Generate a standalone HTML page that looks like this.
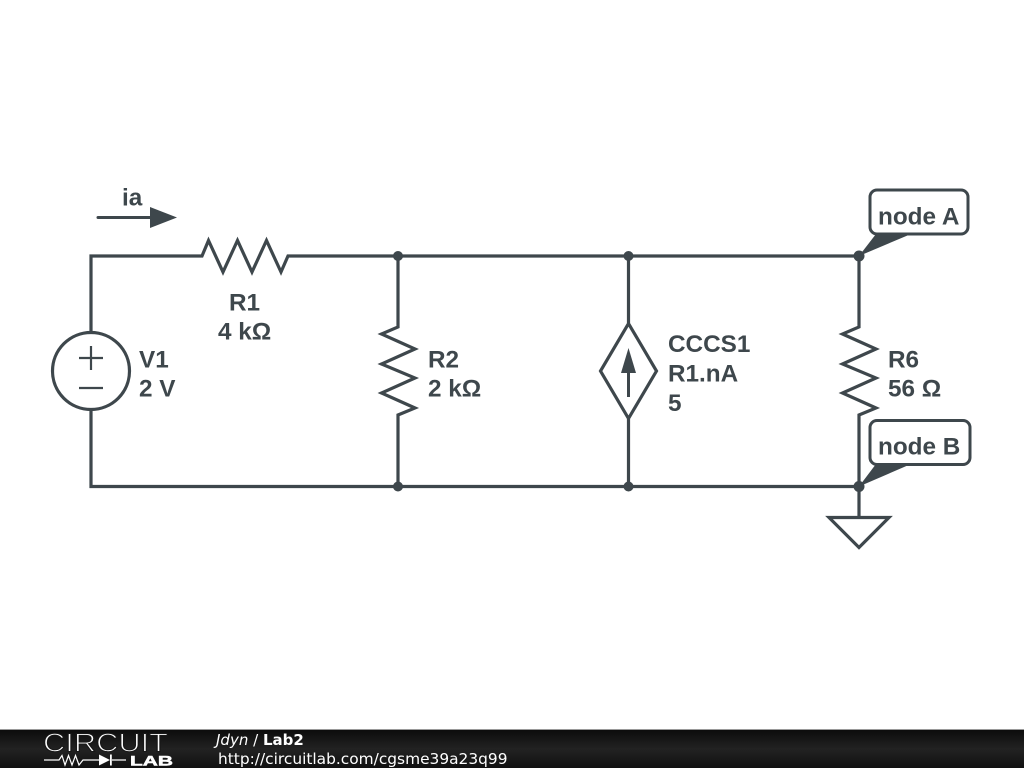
<!DOCTYPE html>
<html>
<head>
<meta charset="utf-8">
<style>
html,body{margin:0;padding:0;background:#fff;width:1024px;height:768px;overflow:hidden}
svg{display:block}
.l{font-family:"Liberation Sans",sans-serif;font-weight:bold;font-size:24.3px;fill:#3e474c}
.w{fill:none;stroke:#3e474c;stroke-width:3.2;stroke-linejoin:miter;stroke-linecap:butt}
.f{font-family:"DejaVu Sans",sans-serif;font-size:15.4px;fill:#fff}
</style>
</head>
<body>
<svg width="1024" height="768" viewBox="0 0 1024 768" xmlns="http://www.w3.org/2000/svg">
<defs>
<linearGradient id="g" x1="0" y1="0" x2="0" y2="1"><stop offset="0" stop-color="#0c0c0c"/><stop offset="0.5" stop-color="#222"/><stop offset="1" stop-color="#111"/></linearGradient>
</defs>
<rect width="1024" height="768" fill="#fff"/>

<!-- wires -->
<path class="w" d="M91 333V256H202L208.500 240.500L223 272L237.500 240.500L252 272L266.500 240.500L281 272L288 256H398"/>
<path class="w" d="M398 256H859"/>
<path class="w" d="M398 256V327L381.500 334L415 349L381.500 364L415 378L381.500 393L415 408L398 415V486.5"/>
<path class="w" d="M628.5 256V323M628.5 419V486.5"/>
<path class="w" d="M859 256V327L842.500 334L876 349L842.500 364L876 378L842.500 393L876 408L859 415V517"/>
<path class="w" d="M91 409V486.5H859"/>

<!-- V1 -->
<circle class="w" cx="91" cy="371" r="38.5"/>
<path d="M79 358H103M91 346V370M79 388H103" fill="none" stroke="#3e474c" stroke-width="2.2"/>

<!-- CCCS -->
<path class="w" d="M628.5 323.500L600.500 371L628.5 418.500L656.500 371Z"/>
<path d="M628.5 372V397" fill="none" stroke="#3e474c" stroke-width="3"/>
<path d="M628.5 348L636 373H621Z" fill="#3e474c"/>

<!-- ground -->
<path class="w" d="M829 517.500H889L859 547.500Z"/>

<!-- current arrow -->
<path d="M98 217.500H152" fill="none" stroke="#3e474c" stroke-width="3" stroke-linecap="round"/>
<path d="M150 207L177 217.500L150 228Z" fill="#3e474c"/>

<!-- junctions -->
<circle cx="398" cy="256" r="5" fill="#3e474c"/>
<circle cx="628.5" cy="256" r="5" fill="#3e474c"/>
<circle cx="859" cy="256" r="5.5" fill="#3e474c"/>
<circle cx="398" cy="486.5" r="5" fill="#3e474c"/>
<circle cx="628.5" cy="486.5" r="5" fill="#3e474c"/>
<circle cx="859" cy="486.5" r="5.5" fill="#3e474c"/>

<!-- node tags -->
<path d="M859 256L876 234H911Z" fill="#3e474c"/>
<rect x="870" y="190" width="98" height="44" rx="7" fill="#fff" stroke="#3e474c" stroke-width="3"/>
<text class="l" x="878" y="224.500">node A</text>
<path d="M859 486.500L876 464H911Z" fill="#3e474c"/>
<rect x="870" y="420.500" width="100" height="44" rx="7" fill="#fff" stroke="#3e474c" stroke-width="3"/>
<text class="l" x="878" y="454.500">node B</text>

<!-- labels -->
<text class="l" x="122" y="205.500">ia</text>
<text class="l" x="229" y="310.500">R1</text>
<text class="l" x="218" y="339.500">4 kΩ</text>
<text class="l" x="139" y="367.500">V1</text>
<text class="l" x="139" y="396.500">2 V</text>
<text class="l" x="428" y="367.500">R2</text>
<text class="l" x="428" y="396.500">2 kΩ</text>
<text class="l" x="668" y="352">CCCS1</text>
<text class="l" x="668" y="381.500">R1.nA</text>
<text class="l" x="668" y="411">5</text>
<text class="l" x="888" y="367.500">R6</text>
<text class="l" x="888" y="396.500">56 Ω</text>

<!-- footer -->
<rect x="0" y="729" width="1024" height="1" fill="#999"/>
<rect x="0" y="730" width="1024" height="38" fill="url(#g)"/>
<text x="43" y="751.500" font-family="'Liberation Sans',sans-serif" font-size="26" textLength="125" lengthAdjust="spacingAndGlyphs" fill="#fff" stroke="#181818" stroke-width="1.100">CIRCUIT</text>
<path d="M44 760H59L62 755.500L65 765L68.500 755.500L72 765L75.500 755.500L79 765L83 760H99M112 760H126" fill="none" stroke="#fff" stroke-width="1.200"/>
<path d="M99 754.500L110 760L99 765.500Z" fill="#fff"/>
<rect x="110" y="754.500" width="1.800" height="11" fill="#fff"/>
<text x="130" y="765.500" font-family="'Liberation Sans',sans-serif" font-size="13.500" font-weight="bold" textLength="43" lengthAdjust="spacingAndGlyphs" fill="#fff" stroke="#fff" stroke-width="0.500">LAB</text>
<text class="f" x="216" y="745" style="font-size:15px"><tspan font-style="italic">Jdyn</tspan> / <tspan font-weight="bold">Lab2</tspan></text>
<text class="f" x="218" y="764">http://circuitlab.com/cgsme39a23q99</text>
</svg>
</body>
</html>
